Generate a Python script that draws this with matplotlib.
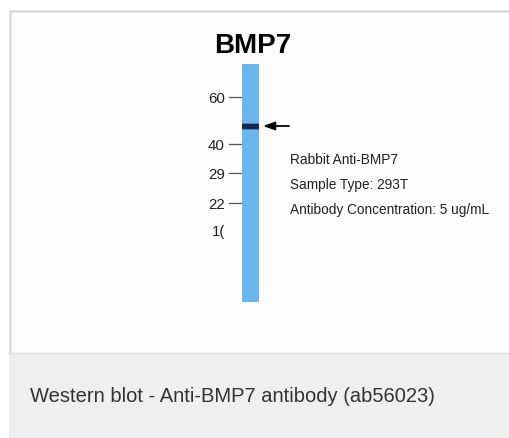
import matplotlib
matplotlib.use("Agg")
import matplotlib.pyplot as plt
from matplotlib.patches import Rectangle

# Data
title = "BMP7"
marker_labels = ["60", "40", "29", "22", "1("]
marker_positions = [99, 146, 175, 205, 232]   # pixel rows of ladder markers
band_position = 127                           # pixel row of detected band
info_lines = ["Rabbit Anti-BMP7", "Sample Type: 293T", "Antibody Concentration: 5 ug/mL"]
caption = "Western blot - Anti-BMP7 antibody (ab56023)"

W, H = 510, 439
fig = plt.figure(figsize=(W / 100, H / 100), dpi=100)
ax = fig.add_axes([0, 0, 1, 1])
ax.set_xlim(0, W)
ax.set_ylim(H, 0)
ax.axis("off")
fig.patch.set_facecolor("white")

font = "Liberation Sans"

# panel frame
ax.add_patch(Rectangle((9, 11), W + 20 - 9, 343, facecolor="#fdfdfd", edgecolor="none"))
ax.plot([9, W + 20], [11.8, 11.8], color="#dcdcdc", lw=1.8, solid_capstyle="butt")
ax.plot([9.8, 9.8], [11, 354], color="#dcdcdc", lw=1.8, solid_capstyle="butt")
# caption area
ax.add_patch(Rectangle((9, 354), W + 20 - 9, H + 20 - 354, facecolor="#eeefee", edgecolor="none"))
ax.plot([9, W + 20], [354, 354], color="#e2e2e2", lw=1)

# lane
lane_x0, lane_x1 = 242, 259
lane_top, lane_bot = 65, 303
ax.add_patch(Rectangle((lane_x0, lane_top), lane_x1 - lane_x0, lane_bot - lane_top,
                       facecolor="#6cb6ee", edgecolor="none"))
# band
ax.add_patch(Rectangle((lane_x0, band_position - 2.5), lane_x1 - lane_x0, 5,
                       facecolor="#142850", edgecolor="none"))
ax.add_patch(Rectangle((lane_x0, band_position - 3.5), lane_x1 - lane_x0, 7,
                       facecolor="#142850", edgecolor="none", alpha=0.35))

# arrow
ax.annotate("", xy=(263, band_position), xytext=(289, band_position),
            arrowprops=dict(arrowstyle="-|>,head_length=0.7,head_width=0.25",
                            color="black", lw=1.3, shrinkA=0, shrinkB=0))

# title
ax.text(252.5, 46, title, fontsize=20, fontweight="bold", family=font,
        ha="center", va="center", color="black")

# ladder
for lab, y in zip(marker_labels, marker_positions):
    ax.text(225, y + 0.5, lab, fontsize=10.8, family=font, ha="right", va="center", color="#222222")
    if lab != "1(":
        ax.plot([229, 241], [y - 1, y - 1], color="#555555", lw=0.9)

# info text
for i, line in enumerate(info_lines):
    ax.text(290, 160 + 25 * i, line, fontsize=9.8, family=font, ha="left", va="center",
            color="#222222")

# caption
ax.text(30, 397, caption, fontsize=14.5, family=font, ha="left", va="center", color="#333333")

fig.savefig("out.png", dpi=100)
